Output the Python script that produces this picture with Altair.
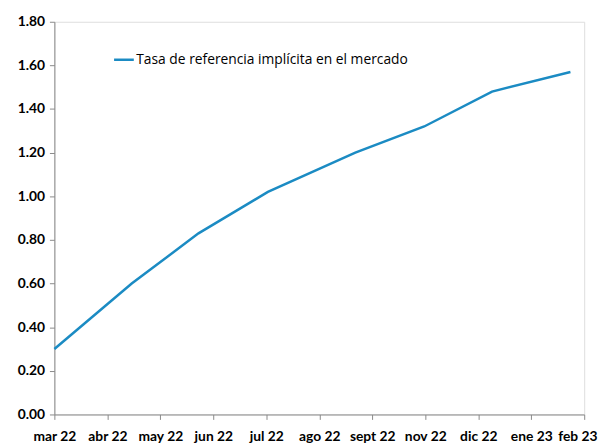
import altair as alt
import pandas as pd

# Axis categories (tick labels, equally spaced)
months = ["mar 22", "abr 22", "may 22", "jun 22", "jul 22", "ago 22",
          "sept 22", "nov 22", "dic 22", "ene 23", "feb 23"]

# Series: position along the month axis (in tick units) and value
x_pos = [0.0, 1.46, 2.72, 4.03, 5.68, 6.98, 8.26, 9.74]
rate = [0.30, 0.60, 0.83, 1.02, 1.20, 1.32, 1.48, 1.57]

series_name = "Tasa de referencia implícita en el mercado"

df = pd.DataFrame({"x": x_pos, "y": rate, "serie": [series_name] * len(x_pos)})

label_array = "[" + ",".join("'" + m + "'" for m in months) + "]"
last_idx = len(months) - 1

AXIS_COLOR = "#898989"
LINE_COLOR = "#1B8BC3"

chart = alt.Chart(df).mark_line(strokeWidth=2.5).encode(
    x=alt.X("x:Q",
            scale=alt.Scale(domain=[0, last_idx], nice=False, zero=False),
            axis=alt.Axis(values=list(range(len(months))),
                          labelExpr=label_array + "[datum.value]",
                          title=None, grid=False, domainColor=AXIS_COLOR,
                          tickColor=AXIS_COLOR, tickSize=5, labelFont="Lato",
                          labelFontWeight="bold", labelFontSize=14,
                          labelColor="#000000", labelFlush=False,
                          labelOverlap=False, labelBound=False, labelPadding=10,
                          labelOffset={"condition": {"test": f"datum.value == {last_idx}",
                                                     "value": -7},
                                       "value": 0})),
    y=alt.Y("y:Q",
            scale=alt.Scale(domain=[0, 1.8], nice=False),
            axis=alt.Axis(values=[0, 0.2, 0.4, 0.6, 0.8, 1.0, 1.2, 1.4, 1.6, 1.8],
                          format=".2f", title=None, grid=False,
                          domainColor=AXIS_COLOR, tickColor=AXIS_COLOR,
                          tickSize=5, labelFont="Lato", labelFontWeight="bold",
                          labelFontSize=14, labelColor="#000000",
                          labelPadding=5)),
    color=alt.Color("serie:N",
                    scale=alt.Scale(range=[LINE_COLOR]),
                    legend=alt.Legend(title=None, orient="none", legendX=59,
                                      legendY=27, symbolType="stroke",
                                      symbolSize=400, symbolStrokeWidth=2.5,
                                      labelFont="Open Sans", labelFontSize=14,
                                      labelColor="#000000", labelLimit=450,
                                      labelOffset=1)),
).properties(
    width=537,
    height=398,
    autosize=alt.AutoSizeParams(type="none"),
    padding={"left": 47, "top": 11, "right": 16, "bottom": 28},
).configure_view(stroke=None).configure(background="white")

chart.save("out.html", embed_options={"renderer": "svg", "actions": False})
